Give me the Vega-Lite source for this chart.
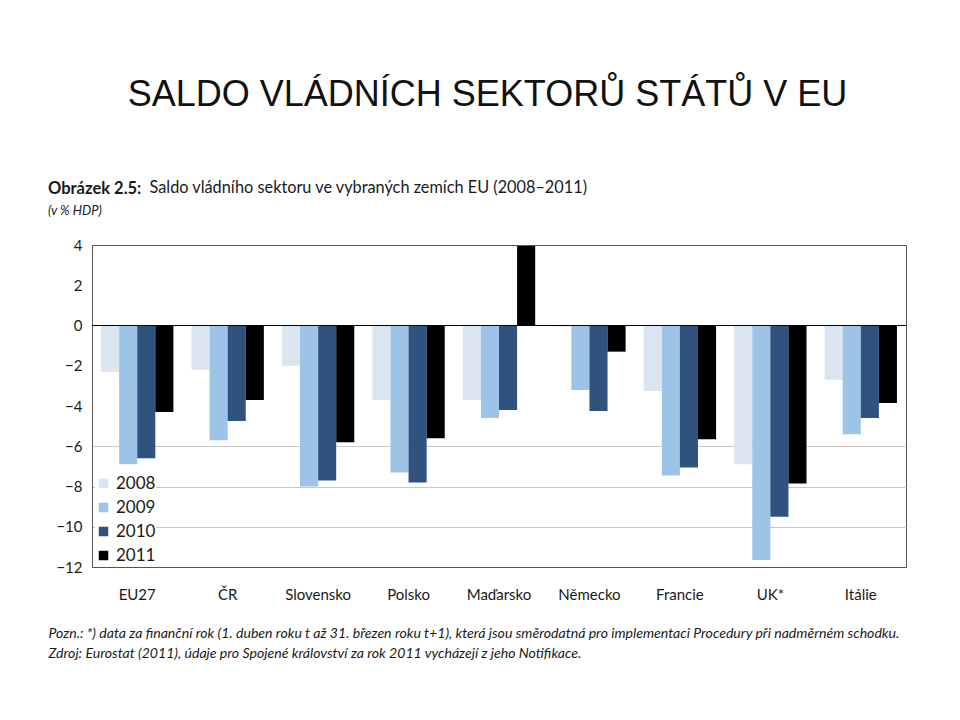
{
  "$schema": "https://vega.github.io/schema/vega-lite/v6.json",
  "width": 814,
  "height": 322,
  "autosize": {"type": "none"},
  "padding": {"left": 92, "top": 245, "right": 54, "bottom": 153},
  "background": "#ffffff",
  "title": {
    "text": "Obrázek 2.5:",
    "subtitle": "(v % HDP)",
    "anchor": "start",
    "frame": "group",
    "dx": -44,
    "offset": -142,
    "font": "Lato",
    "fontSize": 16.5,
    "fontWeight": "bold",
    "color": "#1a1a1a",
    "subtitleFont": "Lato",
    "subtitleFontSize": 13,
    "subtitleFontStyle": "italic",
    "subtitleColor": "#1a1a1a",
    "subtitlePadding": 8
  },
  "data": {
    "values": [
      {"country": "EU27", "year": "2008", "value": -2.3},
      {"country": "EU27", "year": "2009", "value": -6.9},
      {"country": "EU27", "year": "2010", "value": -6.6},
      {"country": "EU27", "year": "2011", "value": -4.3},
      {"country": "ČR", "year": "2008", "value": -2.2},
      {"country": "ČR", "year": "2009", "value": -5.7},
      {"country": "ČR", "year": "2010", "value": -4.75},
      {"country": "ČR", "year": "2011", "value": -3.7},
      {"country": "Slovensko", "year": "2008", "value": -2.0},
      {"country": "Slovensko", "year": "2009", "value": -8.0},
      {"country": "Slovensko", "year": "2010", "value": -7.7},
      {"country": "Slovensko", "year": "2011", "value": -5.8},
      {"country": "Polsko", "year": "2008", "value": -3.7},
      {"country": "Polsko", "year": "2009", "value": -7.3},
      {"country": "Polsko", "year": "2010", "value": -7.8},
      {"country": "Polsko", "year": "2011", "value": -5.6},
      {"country": "Maďarsko", "year": "2008", "value": -3.7},
      {"country": "Maďarsko", "year": "2009", "value": -4.6},
      {"country": "Maďarsko", "year": "2010", "value": -4.2},
      {"country": "Maďarsko", "year": "2011", "value": 3.95},
      {"country": "Německo", "year": "2008", "value": -0.05},
      {"country": "Německo", "year": "2009", "value": -3.2},
      {"country": "Německo", "year": "2010", "value": -4.25},
      {"country": "Německo", "year": "2011", "value": -1.3},
      {"country": "Francie", "year": "2008", "value": -3.25},
      {"country": "Francie", "year": "2009", "value": -7.45},
      {"country": "Francie", "year": "2010", "value": -7.05},
      {"country": "Francie", "year": "2011", "value": -5.65},
      {"country": "UK*", "year": "2008", "value": -6.9},
      {"country": "UK*", "year": "2009", "value": -11.65},
      {"country": "UK*", "year": "2010", "value": -9.5},
      {"country": "UK*", "year": "2011", "value": -7.85},
      {"country": "Itálie", "year": "2008", "value": -2.7},
      {"country": "Itálie", "year": "2009", "value": -5.4},
      {"country": "Itálie", "year": "2010", "value": -4.6},
      {"country": "Itálie", "year": "2011", "value": -3.85}
    ]
  },
  "layer": [
    {
      "mark": {"type": "bar"},
      "encoding": {
        "x": {
          "field": "country",
          "type": "nominal",
          "sort": null,
          "scale": {"paddingInner": 0.2, "paddingOuter": 0.1},
          "axis": {
            "orient": "bottom",
            "labelAngle": 0,
            "labelFont": "Lato",
            "labelFontSize": 15,
            "labelColor": "#1a1a1a",
            "labelPadding": 20,
            "ticks": false,
            "domain": false,
            "title": [
              "Pozn.: *) data za finanční rok (1. duben roku t až 31. březen roku t+1), která jsou směrodatná pro implementaci Procedury při nadměrném schodku.",
              "Zdroj: Eurostat (2011), údaje pro Spojené království za rok 2011 vycházejí z jeho Notifikace."
            ],
            "titleFont": "Lato",
            "titleFontSize": 14.1,
            "titleFontStyle": "italic",
            "titleFontWeight": "normal",
            "titleColor": "#1a1a1a",
            "titleAlign": "left",
            "titleAnchor": "start",
            "titleBaseline": "alphabetic",
            "titleLineHeight": 20,
            "titleX": -44,
            "titleY": 70
          }
        },
        "xOffset": {
          "field": "year",
          "type": "nominal",
          "scale": {"paddingInner": 0, "paddingOuter": 0}
        },
        "y": {
          "field": "value",
          "type": "quantitative",
          "scale": {"domain": [-12, 4], "nice": false},
          "axis": {
            "values": [4, 2, 0, -2, -4, -6, -8, -10, -12],
            "grid": false,
            "ticks": false,
            "domain": true,
            "domainColor": "#555555",
            "labelFont": "Lato",
            "labelFontSize": 15,
            "labelColor": "#1a1a1a",
            "labelPadding": 10,
            "title": "SALDO VLÁDNÍCH SEKTORŮ STÁTŮ V EU",
            "titleFont": "Liberation Sans",
            "titleFontSize": 36,
            "titleFontWeight": "normal",
            "titleColor": "#111111",
            "titleAngle": 0,
            "titleAlign": "center",
            "titleBaseline": "alphabetic",
            "titleX": 395,
            "titleY": -140
          }
        },
        "color": {
          "field": "year",
          "type": "nominal",
          "scale": {
            "domain": ["2008", "2009", "2010", "2011"],
            "range": ["#dbe5f1", "#9dc3e6", "#30527f", "#000000"]
          },
          "legend": {
            "orient": "bottom-left",
            "offset": 3,
            "title": null,
            "symbolType": "square",
            "symbolSize": 90,
            "symbolStrokeWidth": 0,
            "labelFont": "Lato",
            "labelFontSize": 17,
            "labelColor": "#1a1a1a",
            "rowPadding": 6,
            "fillColor": "#ffffff"
          }
        }
      }
    },
    {
      "mark": {"type": "rule", "color": "#000000", "strokeWidth": 1},
      "encoding": {
        "y": {
          "datum": 0,
          "type": "quantitative",
          "axis": {
            "orient": "right",
            "values": [-6, -8, -10],
            "grid": true,
            "gridColor": "#c8c8c8",
            "gridWidth": 1,
            "labels": false,
            "ticks": false,
            "domain": false,
            "title": "Saldo vládního sektoru ve vybraných zemích EU (2008–2011)",
            "titleFont": "Lato",
            "titleFontSize": 16.3,
            "titleFontWeight": "normal",
            "titleColor": "#1a1a1a",
            "titleAngle": 0,
            "titleAlign": "left",
            "titleBaseline": "alphabetic",
            "titleX": -757,
            "titleY": -53
          }
        }
      }
    }
  ],
  "resolve": {"axis": {"y": "independent"}},
  "config": {
    "view": {"stroke": "#555555", "strokeWidth": 1},
    "axis": {"zindex": 0}
  }
}
